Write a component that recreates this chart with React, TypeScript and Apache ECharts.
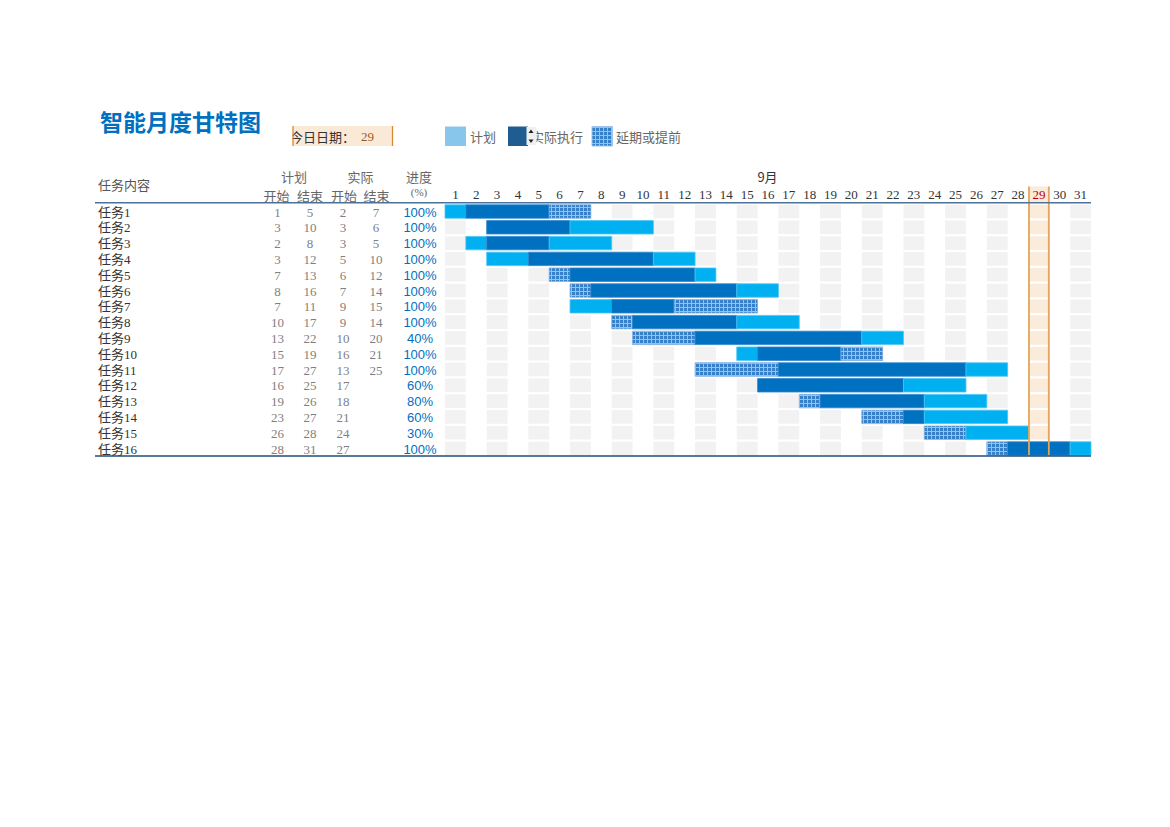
import React, { useEffect, useRef } from 'react';
import * as echarts from 'echarts';

// ---------- data ----------
const tasks = ['任务1', '任务2', '任务3', '任务4', '任务5', '任务6', '任务7', '任务8', '任务9', '任务10', '任务11', '任务12', '任务13', '任务14', '任务15', '任务16'];
const days = ['1', '2', '3', '4', '5', '6', '7', '8', '9', '10', '11', '12', '13', '14', '15', '16', '17', '18', '19', '20', '21', '22', '23', '24', '25', '26', '27', '28', '29', '30', '31'];
const planStart = [1, 3, 2, 3, 7, 8, 7, 10, 13, 15, 17, 16, 19, 23, 26, 28];
const planEnd = [5, 10, 8, 12, 13, 16, 11, 17, 22, 19, 27, 25, 26, 27, 28, 31];
const actualStart = [2, 3, 3, 5, 6, 7, 9, 9, 10, 16, 13, 17, 18, 21, 24, 27];
const actualEnd: (number | null)[] = [7, 6, 5, 10, 12, 14, 15, 14, 20, 21, 25, null, null, null, null, null];
const progress = [100, 100, 100, 100, 100, 100, 100, 100, 40, 100, 100, 60, 80, 60, 30, 100];
// execution span as drawn in the bars
const execStart = [2, 3, 3, 5, 6, 7, 9, 9, 10, 16, 13, 16, 18, 21, 24, 27];
const execEnd = [7, 6, 5, 10, 12, 14, 15, 14, 20, 21, 25, 22, 23, 23, 25, 30];
const today = 29;
const monthLabel = '9月';
const title = '智能月度甘特图';
const legendNames = ['计划', '实际执行', '延期或提前'];

// ---------- styles ----------
const C_PLAN = '#00B0F0';
const C_ACT = '#0070C0';
const C_GREY = '#F2F2F2';
const C_TODAY = '#FBEBDA';
const C_TODAY_LINE = '#E3A55C';
const SERIF = '"Liberation Serif", "Noto Sans CJK SC", serif';
const CJK = '"Noto Sans CJK SC", sans-serif';
const numFont = `13px ${SERIF}`;
const cjkFont = `13px ${CJK}`;

function buildSegments() {
  const segs: number[][] = [];
  tasks.forEach((_, i) => {
    let cur = -1;
    let s = 0;
    for (let d = 1; d <= days.length + 1; d++) {
      const inP = d >= planStart[i] && d <= planEnd[i];
      const inA = d >= execStart[i] && d <= execEnd[i];
      const k = d > days.length ? -1 : inP && inA ? 1 : inP ? 0 : inA ? 2 : -1;
      if (k !== cur) {
        if (cur >= 0) segs.push([s - 1, i, d - 2, cur]);
        cur = k;
        s = d;
      }
    }
  });
  return segs;
}

function buildCells() {
  const cells: number[][] = [];
  tasks.forEach((_, i) => {
    days.forEach((_d, j) => {
      const day = j + 1;
      if (day === today) cells.push([j, i, 1]);
      else if (day % 2 === 1) cells.push([j, i, 0]);
    });
  });
  return cells;
}

export default function App() {
  const ref = useRef<HTMLDivElement>(null);
  useEffect(() => {
    if (!ref.current) return;
    const cv = document.createElement('canvas');
    cv.width = 4;
    cv.height = 4;
    const ctx = cv.getContext('2d')!;
    ctx.fillStyle = '#98C0E8';
    ctx.fillRect(0, 0, 4, 4);
    ctx.fillStyle = '#3580C8';
    ctx.fillRect(0, 0, 3, 3);
    const hatch: any = { image: cv.toDataURL(), repeat: 'repeat', imageWidth: 4, imageHeight: 4 };

    const chart = echarts.init(ref.current, null, { renderer: 'svg' });
    const fills = [C_PLAN, C_ACT, hatch];
    const strokes = ['#4CC6F4', '#2F85CC', '#7FB0E2'];
    const headerTop = 186.5;

    const cellGeom = (api: any, dayIdx: number, taskIdx: number) => {
      const p = api.coord([dayIdx, taskIdx]);
      const sz = api.size([1, 1]);
      return { cx: p[0], cy: p[1], bw: sz[0], bh: sz[1] };
    };

    const option: any = {
      animation: false,
      grid: { left: 445, right: 79, top: 203.6, bottom: 370.6 },
      xAxis: {
        type: 'category',
        position: 'top',
        data: days,
        z: 10,
        axisLine: { show: false },
        axisTick: { show: false },
        splitLine: { show: false },
        axisLabel: {
          interval: 0,
          margin: 3,
          color: '#333',
          fontSize: 13,
          fontFamily: SERIF,
          formatter: (v: string) => (Number(v) === today ? `{r|${v}}` : v),
          rich: { r: { color: '#C00000', fontSize: 13, fontFamily: SERIF } },
        },
      },
      yAxis: {
        type: 'category',
        inverse: true,
        data: tasks,
        axisLine: { show: false },
        axisTick: { show: false },
        axisLabel: { show: false },
        splitLine: { show: false },
      },
      series: [
        {
          type: 'custom',
          name: 'cells',
          silent: true,
          clip: false,
          z: 1,
          data: buildCells(),
          renderItem: (_p: any, api: any) => {
            const g = cellGeom(api, api.value(0), api.value(1));
            const h = g.bh * 0.86;
            return {
              type: 'rect',
              shape: { x: g.cx - g.bw / 2, y: g.cy - h / 2, width: g.bw, height: h },
              style: { fill: api.value(2) === 1 ? C_TODAY : C_GREY },
            };
          },
        },
        {
          type: 'custom',
          name: 'todayHeader',
          silent: true,
          clip: false,
          z: 1,
          data: [[today - 1, 0]],
          renderItem: (_p: any, api: any) => {
            const g = cellGeom(api, api.value(0), 0);
            const top = g.cy - g.bh / 2;
            return {
              type: 'rect',
              shape: { x: g.cx - g.bw / 2, y: headerTop, width: g.bw, height: top - headerTop - 0.5 },
              style: { fill: C_TODAY },
            };
          },
        },
        {
          type: 'custom',
          name: 'bars',
          silent: true,
          clip: false,
          z: 3,
          data: buildSegments(),
          renderItem: (_p: any, api: any) => {
            const a = cellGeom(api, api.value(0), api.value(1));
            const b = cellGeom(api, api.value(2), api.value(1));
            const k = api.value(3);
            const h = a.bh * 0.85;
            const x = a.cx - a.bw / 2;
            return {
              type: 'rect',
              shape: { x, y: a.cy - h / 2, width: b.cx + b.bw / 2 - x, height: h },
              style: { fill: fills[k], stroke: strokes[k], lineWidth: 0.8 },
            };
          },
        },
        {
          type: 'custom',
          name: 'todayLines',
          silent: true,
          clip: false,
          z: 4,
          data: [[today - 1, tasks.length - 1]],
          renderItem: (_p: any, api: any) => {
            const g = cellGeom(api, api.value(0), api.value(1));
            const bottom = g.cy + g.bh / 2 - 0.5;
            const xl = g.cx - g.bw / 2 + 0.5;
            const xr = g.cx + g.bw / 2 - 0.5;
            return {
              type: 'group',
              children: [
                { type: 'line', shape: { x1: xl, y1: headerTop, x2: xl, y2: bottom }, style: { stroke: C_TODAY_LINE, lineWidth: 1.8 } },
                { type: 'line', shape: { x1: xr, y1: headerTop, x2: xr, y2: bottom }, style: { stroke: C_TODAY_LINE, lineWidth: 1.8 } },
              ],
            };
          },
        },
        {
          type: 'custom',
          name: 'table',
          silent: true,
          clip: false,
          z: 5,
          data: tasks.map((_, i) => [0, i]),
          renderItem: (_p: any, api: any) => {
            const i = api.value(1);
            const y = api.coord([0, i])[1] + 0.5;
            const mk = (text: string, x: number, fill: string, align = 'center', font = numFont) => ({
              type: 'text',
              x,
              y,
              style: { text, fill, font, align, verticalAlign: 'middle' },
            });
            return {
              type: 'group',
              children: [
                mk(tasks[i], 98, '#333', 'left', numFont),
                mk(String(planStart[i]), 277.5, '#7F7F7F'),
                mk(String(planEnd[i]), 310, '#7F7F7F'),
                mk(String(actualStart[i]), 343, '#7F7F7F'),
                mk(actualEnd[i] == null ? '' : String(actualEnd[i]), 376, '#7F7F7F'),
                mk(`${progress[i]}%`, 420, '#0070C0', 'center', `13px "Liberation Sans Narrow", "Liberation Sans", sans-serif`),
              ],
            };
          },
        },
      ],
      graphic: [
        // title
        { type: 'text', x: 100, y: 121, z: 20, style: { text: title, font: `bold 23px ${CJK}`, fill: '#0070C0', verticalAlign: 'middle' } },
        // today date box
        { type: 'rect', z: 20, shape: { x: 292.5, y: 126, width: 100.5, height: 20 }, style: { fill: '#FBE9D7' } },
        { type: 'text', x: 290, y: 136.5, z: 21, style: { text: '今日日期：', font: cjkFont, fill: '#333', verticalAlign: 'middle' } },
        { type: 'rect', z: 22, shape: { x: 280, y: 125, width: 12.5, height: 22 }, style: { fill: '#fff' } },
        { type: 'text', x: 361, y: 136.5, z: 21, style: { text: String(today), font: numFont, fill: '#9C5B1C', verticalAlign: 'middle' } },
        { type: 'line', z: 23, shape: { x1: 293, y1: 126, x2: 293, y2: 146 }, style: { stroke: '#D98A2C', lineWidth: 1.3 } },
        { type: 'line', z: 23, shape: { x1: 392.5, y1: 126, x2: 392.5, y2: 146 }, style: { stroke: '#D98A2C', lineWidth: 1.3 } },
        // legend
        { type: 'rect', z: 20, shape: { x: 445, y: 126.5, width: 21, height: 19.5 }, style: { fill: '#88C6EB' } },
        { type: 'text', x: 470, y: 136.5, z: 20, style: { text: legendNames[0], font: cjkFont, fill: '#666', verticalAlign: 'middle' } },
        { type: 'rect', z: 20, shape: { x: 508, y: 126.5, width: 20, height: 19.5 }, style: { fill: '#1F5C8F' } },
        { type: 'text', x: 531, y: 136.5, z: 20, style: { text: legendNames[1], font: cjkFont, fill: '#666', verticalAlign: 'middle' } },
        { type: 'rect', z: 21, shape: { x: 526.5, y: 127, width: 10, height: 18 }, style: { fill: '#F0F0F0' } },
        { type: 'polygon', z: 22, shape: { points: [[528.5, 133], [533.5, 133], [531, 129.5]] }, style: { fill: '#222' } },
        { type: 'polygon', z: 22, shape: { points: [[528.5, 139.5], [533.5, 139.5], [531, 143]] }, style: { fill: '#222' } },
        { type: 'rect', z: 20, shape: { x: 592, y: 126.5, width: 20.5, height: 19.5 }, style: { fill: hatch, stroke: '#9CC3EA', lineWidth: 1 } },
        { type: 'text', x: 616, y: 136.5, z: 20, style: { text: legendNames[2], font: cjkFont, fill: '#666', verticalAlign: 'middle' } },
        // table headers
        { type: 'text', x: 98, y: 184.5, z: 20, style: { text: '任务内容', font: cjkFont, fill: '#555', verticalAlign: 'middle' } },
        { type: 'text', x: 294, y: 176.5, z: 20, style: { text: '计划', font: cjkFont, fill: '#666', align: 'center', verticalAlign: 'middle' } },
        { type: 'text', x: 360.5, y: 176.5, z: 20, style: { text: '实际', font: cjkFont, fill: '#666', align: 'center', verticalAlign: 'middle' } },
        { type: 'text', x: 276.5, y: 195, z: 20, style: { text: '开始', font: cjkFont, fill: '#666', align: 'center', verticalAlign: 'middle' } },
        { type: 'text', x: 310, y: 195, z: 20, style: { text: '结束', font: cjkFont, fill: '#666', align: 'center', verticalAlign: 'middle' } },
        { type: 'text', x: 344, y: 195, z: 20, style: { text: '开始', font: cjkFont, fill: '#666', align: 'center', verticalAlign: 'middle' } },
        { type: 'text', x: 376.5, y: 195, z: 20, style: { text: '结束', font: cjkFont, fill: '#666', align: 'center', verticalAlign: 'middle' } },
        { type: 'text', x: 419, y: 176, z: 20, style: { text: '进度', font: cjkFont, fill: '#666', align: 'center', verticalAlign: 'middle' } },
        { type: 'text', x: 419, y: 191.5, z: 20, style: { text: '(%)', font: `11px ${SERIF}`, fill: '#666', align: 'center', verticalAlign: 'middle' } },
        { type: 'text', x: 767.5, y: 176.5, z: 20, style: { text: monthLabel, font: cjkFont, fill: '#333', align: 'center', verticalAlign: 'middle' } },
        // header / bottom rules
        { type: 'line', z: 30, shape: { x1: 95, y1: 202.8, x2: 1091, y2: 202.8 }, style: { stroke: '#4D7298', lineWidth: 1.6 } },
        { type: 'line', z: 30, shape: { x1: 95, y1: 456, x2: 1091, y2: 456 }, style: { stroke: '#1F4E79', lineWidth: 1.4 } },
      ],
    };
    chart.setOption(option);
    return () => chart.dispose();
  }, []);
  return <div ref={ref} style={{ position: 'absolute', left: 0, top: 0, width: 1170, height: 827 }} />;
}
